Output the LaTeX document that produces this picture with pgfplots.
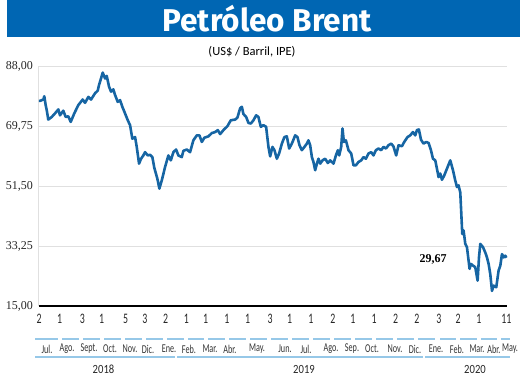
\documentclass[border=0pt]{standalone}
\usepackage{fontspec}
\setmainfont{Liberation Serif}
\usepackage{pgfplots}
\pgfplotsset{compat=1.18}
\newfontfamily\titlefont{Fira Sans}
\newfontfamily\subfont{Carlito}
\newfontfamily\condfont[FakeStretch=0.68]{Carlito}
\newfontfamily\yearfont[FakeStretch=0.85]{Carlito}
\definecolor{barblue}{RGB}{0,102,179}
\definecolor{lineblue}{RGB}{22,101,163}
\definecolor{lightblue}{RGB}{150,200,232}
\definecolor{gridgray}{RGB}{224,224,224}
\pgfplotstableread{
d v
0.0 77.4
1.5 77.4
6.3 77.8
7.7 78.8
9.7 76.1
11.2 74.6
13.5 71.7
18.5 72.5
23.3 73.6
28.1 74.8
30.5 73.0
35.3 74.4
38.8 72.5
42.6 72.7
46.1 71.0
51.3 73.6
57.1 76.1
63.5 77.8
66.9 76.8
71.7 78.6
75.6 77.8
81.4 79.7
85.3 80.5
87.2 82.2
90.1 84.2
92.6 86.0
96.0 84.2
98.4 85.0
101.8 81.7
104.7 80.2
108.0 80.9
110.5 79.2
114.4 77.1
117.8 77.6
121.1 75.6
125.0 73.6
129.0 71.5
132.3 70.0
135.6 65.9
139.6 66.4
142.0 63.4
145.4 58.3
148.3 59.8
151.6 60.8
154.1 61.8
158.0 60.8
161.4 61.0
164.7 60.3
167.6 57.0
172.0 53.7
174.9 50.7
178.4 53.2
183.2 57.3
188.0 60.8
191.5 59.3
195.3 61.8
199.2 62.6
202.5 60.8
207.5 60.3
209.8 62.2
214.7 62.6
219.5 61.8
224.3 65.4
229.3 66.9
233.1 66.9
236.6 64.9
240.3 66.2
246.2 66.6
251.1 67.6
255.9 67.9
259.8 68.5
263.2 67.3
268.0 68.5
273.8 69.7
278.7 71.5
285.0 71.7
288.3 72.3
292.2 75.1
294.7 75.6
297.0 73.4
301.0 72.5
304.3 70.7
307.8 70.5
311.6 71.5
315.5 73.0
318.8 72.5
322.3 69.5
326.1 70.0
330.0 69.5
333.4 63.4
335.9 60.5
339.2 63.4
342.1 62.4
345.6 59.8
348.9 61.4
352.9 64.4
356.6 66.4
360.1 66.6
363.5 62.9
367.4 64.4
372.2 66.9
375.5 66.4
378.5 63.9
381.9 62.4
385.7 63.4
389.2 64.4
391.5 65.4
394.0 63.9
396.5 60.3
398.8 58.8
401.3 56.3
403.8 58.3
406.1 59.8
408.6 58.3
411.9 59.3
415.8 59.8
419.7 58.5
423.1 59.3
427.9 58.3
431.4 60.8
434.3 62.4
436.2 60.8
439.1 63.4
441.0 69.0
443.0 64.9
445.9 65.4
449.7 62.4
453.6 61.4
457.0 57.8
460.5 57.8
464.2 58.8
468.2 59.3
471.5 60.3
475.0 59.8
478.8 61.4
482.7 61.8
486.0 60.8
489.5 62.4
493.3 62.9
497.2 62.4
500.6 63.4
504.1 62.9
507.8 63.9
511.8 64.4
515.1 63.5
519.0 60.8
522.4 63.9
527.3 63.6
530.7 64.9
535.5 66.4
539.4 66.9
543.3 67.9
546.7 66.9
549.1 68.5
552.0 68.7
555.0 65.6
558.7 64.4
562.7 64.9
566.0 64.6
569.5 62.4
572.4 59.8
575.8 59.3
578.2 56.8
580.6 54.2
583.0 55.3
585.5 53.4
588.8 54.7
592.8 56.8
597.6 59.3
601.5 56.3
604.8 53.2
607.3 51.2
609.6 51.7
612.1 49.6
613.6 43.1
615.0 36.9
616.9 38.0
619.4 33.9
621.8 32.9
624.2 28.8
625.6 26.3
627.7 27.8
630.6 27.3
633.9 26.8
637.3 22.7
639.3 29.8
641.2 33.9
645.1 32.9
648.4 31.3
650.9 29.8
653.3 27.8
655.7 24.7
658.2 19.6
660.5 21.2
664.4 20.7
667.8 25.8
670.3 27.3
672.7 30.8
675.1 29.8
677.5 30.3
679.0 29.67
}\brent
\begin{document}
\begin{tikzpicture}
\useasboundingbox (0,0) rectangle (520pt,-376pt);
\fill[barblue] (7pt,0pt) rectangle (520pt,-37pt);
\node[text=white, font=\titlefont\bfseries\fontsize{31.5}{32}\selectfont] at (267pt,-19pt) {Petróleo Brent};
\node[font=\subfont\fontsize{12.5}{13}\selectfont] at (252pt,-52pt) {(US\$ / Barril, IPE)};
\begin{axis}[
  at={(39pt,-306pt)}, anchor=south west,
  width=468pt, height=240pt, scale only axis,
  xmin=0, xmax=680, ymin=15, ymax=88,
  axis x line*=bottom, axis y line*=left,
  x axis line style={black, line width=1.6pt, -},
  y axis line style={gridgray, line width=1pt, -},
  ytick={15,33.25,51.5,69.75,88},
  yticklabels={{15,00},{33,25},{51,50},{69,75},{88,00}},
  ymajorgrids, grid style={gridgray, line width=1pt},
  major tick length=0pt,
  xtick={0,30,63,91,126,154,184,214,242,273,303,336,364,395,427,456,487,518,549,581,609,639,679},
  xticklabels={2,1,3,1,5,3,2,1,1,1,1,3,1,1,2,1,1,2,2,3,2,1,11},
  xticklabel style={font=\condfont\fontsize{14.5}{14.5}\selectfont, anchor=center, yshift=-13pt, text=black!85},
  yticklabel style={font=\fontsize{12}{12}\selectfont, anchor=east, inner sep=0pt, xshift=-6pt, text=black!85},
  clip=false,
]
\addplot[lineblue, line width=2.6pt, line join=round] table[x=d, y=v] {\brent};
\end{axis}
\begin{scope}[x=1pt,y=-1pt]
\foreach \a/\b in {35/58,62/79,83/100,104/121,125/142,146/163,167/184,188/204,208/225,229/246,250/267,271/288,292/309,313/330,334/351,355/372,376/393,397/414,418/435,440/456,460/477,481/497,501/510}
  \draw[lightblue, line width=1.3pt] (\a,339) -- (\b,339);
\draw[lightblue, line width=1.1pt] (35,357) -- (175,357);
\draw[lightblue, line width=1.1pt] (177,357) -- (423,357);
\draw[lightblue, line width=1.1pt] (425,357) -- (510,357);
\foreach \x/\t in {47/Jul.,67/Ago.,89/Sept.,110/Oct.,130/Nov.,148/Dic.,169/Ene.,189/Feb.,210/Mar.,230/Abr.,257/May.,285/Jun.,306/Jul.,331/Ago.,352/Sep.,372/Oct.,395/Nov.,415/Dic.,436/Ene.,457/Feb.,477/Mar.,494/Abr.}
  \node[font=\condfont\fontsize{12}{12}\selectfont, text=black!80, inner sep=0.5pt] at (\x,349) {\t};
\node[font=\condfont\fontsize{12}{12}\selectfont, text=black!80, inner sep=0.5pt] at (510,349) {May.};
\node[font=\yearfont\fontsize{12.5}{12.5}\selectfont, text=black!85, inner sep=1pt] at (103.5,369) {2018};
\node[font=\yearfont\fontsize{12.5}{12.5}\selectfont, text=black!85, inner sep=1pt] at (304,369) {2019};
\node[font=\yearfont\fontsize{12.5}{12.5}\selectfont, text=black!85, inner sep=1pt] at (475,369) {2020};
\node[font=\bfseries\fontsize{12}{12}\selectfont] at (433,259) {29,67};
\end{scope}
\end{tikzpicture}
\end{document}
